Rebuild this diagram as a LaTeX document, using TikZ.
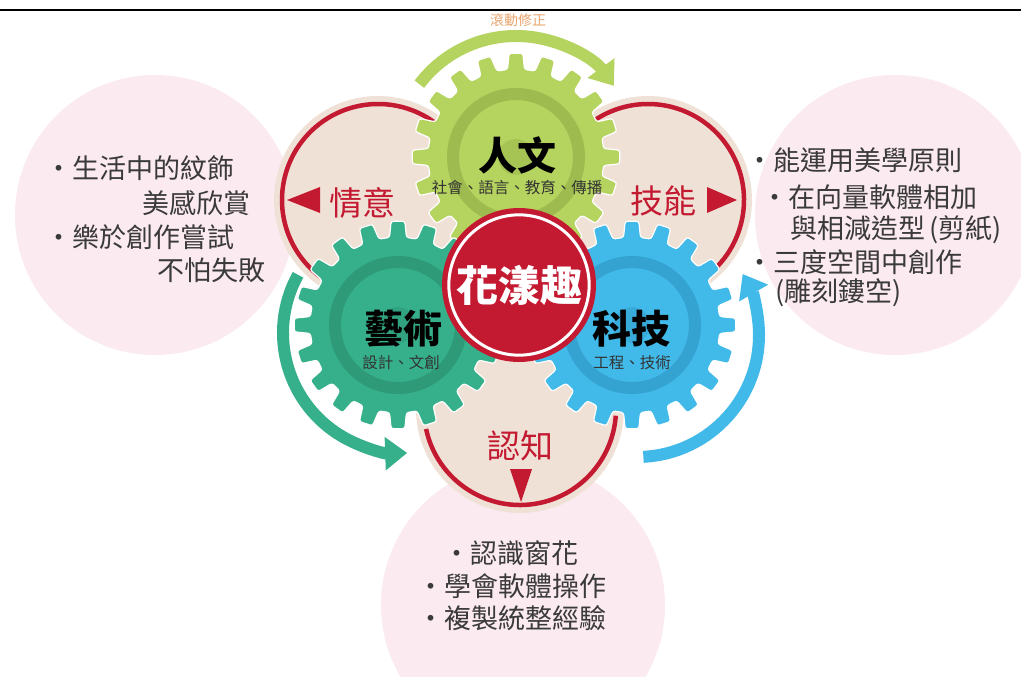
\documentclass[tikz,border=0pt]{standalone}
\usepackage{fontspec}
\newfontfamily\cjk{Noto Sans CJK TC}
\usetikzlibrary{arrows.meta}

\definecolor{leafgreen}{HTML}{B5D35F}
\definecolor{leafgreenring}{HTML}{9DBB4E}
\definecolor{mint}{HTML}{36B08A}
\definecolor{mintring}{HTML}{2E9A78}
\definecolor{sky}{HTML}{41B9E9}
\definecolor{skyring}{HTML}{35A3D2}
\definecolor{flowerred}{HTML}{C31A31}
\definecolor{sand}{HTML}{F0E1D7}
\definecolor{blush}{HTML}{FBEAF0}
\definecolor{inkgray}{HTML}{3A3A3A}
\definecolor{peach}{HTML}{E9A56E}

\newcommand{\pxfont}[1]{\fontsize{#1}{#1}\selectfont}

% cog wheel: body colour, ring colour
\tikzset{
  pics/cog/.style 2 args={code={
    \fill[#1, draw=white, line width=1.2pt, rounded corners=2.5pt]
      (-9:88pt) \foreach \ang in {0,18,...,342}{
        -- ({\ang-5.5}:88pt) -- ({\ang-3.8}:104pt) -- ({\ang+3.8}:104pt) -- ({\ang+5.5}:88pt)
      } -- cycle;
    \draw[#2, line width=12pt] (0,0) circle (63pt);
    \fill[#2, opacity=.6] (0,0) circle (18pt);
  }},
}

\begin{document}
\begin{tikzpicture}[x=1pt, y=-1pt,
    lobe/.style={fill=sand},
    lobeline/.style={draw=flowerred, line width=4.5pt},
    spin/.style={line width=12pt, -{Triangle[length=22pt, width=32pt]}},
    facet/.style={text=flowerred, font=\cjk\pxfont{33}},
    pointer/.style={fill=flowerred},
    point/.style={text=inkgray, font=\cjk\pxfont{27}, anchor=west, inner sep=0pt},
    title/.style={font=\cjk\bfseries\pxfont{39}, inner sep=0pt},
    field/.style={font=\cjk\pxfont{15.5}, text=black!80, inner sep=0pt}]
  \useasboundingbox (0,0) rectangle (1021,677);
  \fill[white] (0,0) rectangle (1021,677);
  \clip (0,0) rectangle (1021,677);

  % Top rule
  \draw[line width=2pt] (0,10.5) -- (1021,10.5);

  % Pink bubbles behind the lists
  \fill[blush] (155,215) circle (140pt);
  \fill[blush] (895,215) circle (140pt);
  \fill[blush] (523,605) circle (142pt);

  % Three lobes
  \fill[lobe] (378,200) circle (104pt);
  \fill[lobe] (648,200) circle (104pt);
  \fill[lobe] (520,409) circle (104pt);
  \draw[lobeline] ([shift={(378,200)}]52:96pt) arc[start angle=52, end angle=238, radius=96pt];
  \draw[lobeline] ([shift={(648,200)}]-58:96pt) arc[start angle=-58, end angle=128, radius=96pt];
  \draw[lobeline] ([shift={(520,409)}]192:96pt) arc[start angle=192, end angle=356, radius=96pt];

  % Gears
  \pic at (516,157) {cog={leafgreen}{leafgreenring}};
  \pic at (398,325) {cog={mint}{mintring}};
  \pic at (632,325) {cog={sky}{skyring}};

  % Turning arrows
  \draw[spin, leafgreen] ([shift={(516,157)}]143:121pt) arc[start angle=143, end angle=36, radius=121pt];
  \draw[spin, mint] ([shift={(403,333)}]151:120pt) arc[start angle=151, end angle=272, radius=120pt];
  \draw[spin, sky] ([shift={(637,335)}]-87:122pt) arc[start angle=-87, end angle=30, radius=122pt];
  \node[text=peach, font=\cjk\pxfont{14}] (rolling) at (518,20) {滾動修正};

  % Centre badge
  \fill[flowerred] (519,285) circle (77pt);
  \node[circle, draw=white, line width=3pt, fill=flowerred, minimum size=140pt,
        text=white, font=\cjk\bfseries\pxfont{42}] (core) at (519,285) {花漾趣};

  % Gear titles
  \node[title] (humanity) at (517,155) {人文};
  \node[field] (humanityfields) at (517,188) {社會、語言、教育、傳播};
  \node[title] (arts) at (403,329) {藝術};
  \node[field] (artsfields) at (401,363) {設計、文創};
  \node[title] (tech) at (631,329) {科技};
  \node[field] (techfields) at (632,363) {工程、技術};

  % Domain labels with markers
  \node[facet] (affect) at (362,203) {情意};
  \fill[pointer] (287,200) -- (320,187) -- (320,213) -- cycle;
  \node[facet] (skill) at (663,201) {技能};
  \fill[pointer] (707,187) -- (737,200) -- (707,213) -- cycle;
  \node[facet] (cognition) at (520,446) {認知};
  \fill[pointer] (510,469) -- (532,469) -- (521,502) -- cycle;

  % Lists
  \node[point] (affect1) at (45,168) {・生活中的紋飾};
  \node[point] (affect2) at (142,203) {美感欣賞};
  \node[point] (affect3) at (45,237) {・樂於創作嘗試};
  \node[point] (affect4) at (157,270) {不怕失敗};

  \node[point] (skill1) at (746,160) {・能運用美學原則};
  \node[point] (skill2) at (761,197) {・在向量軟體相加};
  \node[point] (skill3) at (790,230) {與相減造型\hspace{4pt}(剪紙)};
  \node[point] (skill4) at (746,262) {・三度空間中創作};
  \node[point] (skill5) at (775,293) {(雕刻鏤空)};

  \node[point] (cognition1) at (443,553) {・認識窗花};
  \node[point] (cognition2) at (417,586) {・學會軟體操作};
  \node[point] (cognition3) at (417,618) {・複製統整經驗};
\end{tikzpicture}
\end{document}
